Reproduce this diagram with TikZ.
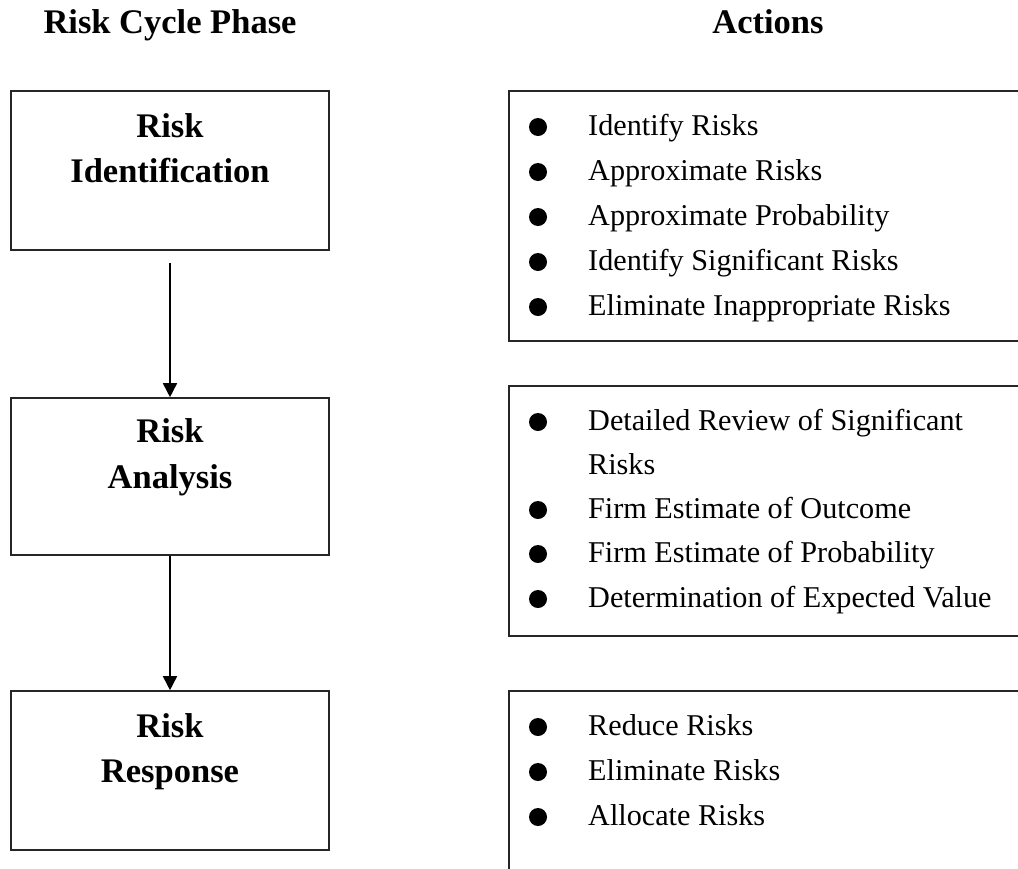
\documentclass[tikz,border=0pt]{standalone}
\usepackage{fontspec}
\setmainfont{Liberation Serif}
\usetikzlibrary{arrows.meta}
\begin{document}
\begin{tikzpicture}[x=1pt,y=-1pt,
  phasebox/.style={draw=black!85,line width=1.6pt,rectangle,minimum width=318pt,inner sep=0pt},
  actbox/.style={draw=black!85,line width=1.6pt,rectangle,inner sep=0pt},
  title/.style={font=\fontsize{34.5}{40}\selectfont\bfseries,anchor=base,inner sep=0pt},
  item/.style={font=\fontsize{30.2}{36}\selectfont,anchor=base west,inner sep=0pt},
  dot/.style={circle,fill=black,minimum size=18pt,inner sep=0pt},
  flow/.style={line width=1.6pt,-{Triangle[length=14pt,width=14pt]}}]
\useasboundingbox (0,0) rectangle (1018,868);
\fill[white] (0,0) rectangle (1018,868);
\clip (0,0) rectangle (1018,868);

% column headings
\node[title] (hphase) at (170,33) {Risk Cycle Phase};
\node[title] (hact) at (768,33) {Actions};

% phase boxes
\node[phasebox,minimum height=159pt] (box1) at (170,170.5) {};
\node[phasebox,minimum height=157pt] (box2) at (170,476.5) {};
\node[phasebox,minimum height=159pt] (box3) at (170,770.5) {};

\node[title] (t1a) at (170,137) {Risk};
\node[title] (t1b) at (170,182) {Identification};
\node[title] (t2a) at (170,442) {Risk};
\node[title] (t2b) at (170,488) {Analysis};
\node[title] (t3a) at (170,737) {Risk};
\node[title] (t3b) at (170,782) {Response};

% flow between phases
\draw[flow,shorten <=12pt] (box1.south) -- (box2.north);
\draw[flow] (box2.south) -- (box3.north);

% action boxes
\node[actbox,minimum width=530pt,minimum height=250pt] (act1) at (774,216) {};
\node[actbox,minimum width=530pt,minimum height=250pt] (act2) at (774,511) {};
\node[actbox,minimum width=530pt,minimum height=250pt] (act3) at (774,816) {};

% actions: identification
\node[dot] (d11) at (538,127) {};
\node[item] (i11) at (588,135) {Identify Risks};
\node[dot] (d12) at (538,172) {};
\node[item] (i12) at (588,180) {Approximate Risks};
\node[dot] (d13) at (538,217) {};
\node[item] (i13) at (588,225) {Approximate Probability};
\node[dot] (d14) at (538,262) {};
\node[item] (i14) at (588,270) {Identify Significant Risks};
\node[dot] (d15) at (538,307) {};
\node[item] (i15) at (588,315) {Eliminate Inappropriate Risks};

% actions: analysis
\node[dot] (d21) at (538,422) {};
\node[item] (i21) at (588,430) {Detailed Review of Significant};
\node[item] (i21b) at (588,474) {Risks};
\node[dot] (d22) at (538,510) {};
\node[item] (i22) at (588,518) {Firm Estimate of Outcome};
\node[dot] (d23) at (538,554) {};
\node[item] (i23) at (588,562) {Firm Estimate of Probability};
\node[dot] (d24) at (538,599) {};
\node[item] (i24) at (588,607) {Determination of Expected Value};

% actions: response
\node[dot] (d31) at (538,727) {};
\node[item] (i31) at (588,735) {Reduce Risks};
\node[dot] (d32) at (538,772) {};
\node[item] (i32) at (588,780) {Eliminate Risks};
\node[dot] (d33) at (538,817) {};
\node[item] (i33) at (588,825) {Allocate Risks};
\end{tikzpicture}
\end{document}
